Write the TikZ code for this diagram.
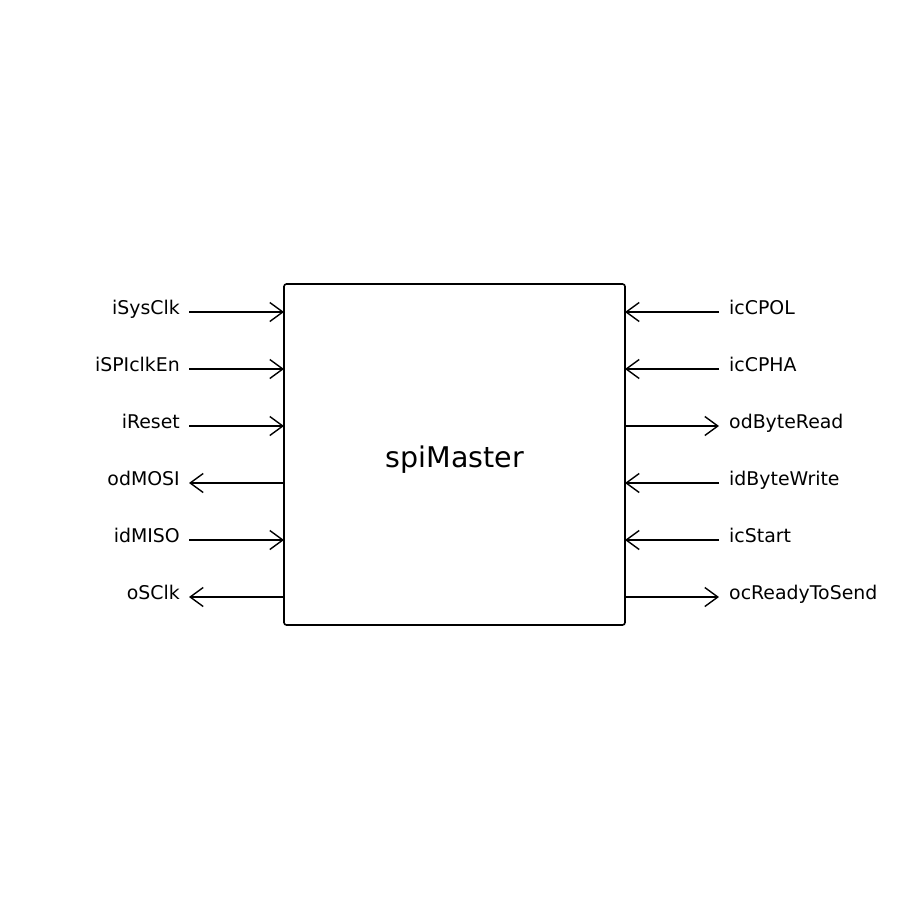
\documentclass[tikz,border=0pt]{standalone}
\usepackage{fontspec}
\setmainfont{DejaVu Sans}
\usetikzlibrary{arrows.meta}
\begin{document}
\begin{tikzpicture}[x=1bp,y=-1bp,
  port/.style={line width=1.4bp,-{Straight Barb[length=13bp,width=19bp,line width=1.4bp]}},
  lbl/.style={inner sep=0pt,font=\fontsize{18.9bp}{22bp}\selectfont},
  blk/.style={draw,line width=1.6bp,rounded corners=2.5bp}]
\useasboundingbox (0,0) rectangle (909,909);
\draw[blk] (284,284) rectangle (625,625);
\node[lbl,font=\fontsize{28.5bp}{32bp}\selectfont,anchor=base] (title) at (455,467) {spiMaster};
% left side
\foreach \n/\y/\t in {a/312/iSysClk, b/369/iSPIclkEn, c/426/iReset, d/483/odMOSI, e/540/idMISO, f/597/oSClk}{
  \coordinate (L\n o) at (189,\y);
  \coordinate (L\n i) at (284,\y);
  \node[lbl,anchor=base east] (Lt\n) at (180,\y+2) {\t};
}
\draw[port] (Lao) -- (Lai);
\draw[port] (Lbo) -- (Lbi);
\draw[port] (Lco) -- (Lci);
\draw[port] (Ldi) -- (Ldo);
\draw[port] (Leo) -- (Lei);
\draw[port] (Lfi) -- (Lfo);
% right side
\foreach \n/\y/\t in {a/312/icCPOL, b/369/icCPHA, c/426/odByteRead, d/483/idByteWrite, e/540/icStart, f/597/ocReadyToSend}{
  \coordinate (R\n o) at (719,\y);
  \coordinate (R\n i) at (625,\y);
  \node[lbl,anchor=base west] (Rt\n) at (729,\y+2) {\t};
}
\draw[port] (Rao) -- (Rai);
\draw[port] (Rbo) -- (Rbi);
\draw[port] (Rci) -- (Rco);
\draw[port] (Rdo) -- (Rdi);
\draw[port] (Reo) -- (Rei);
\draw[port] (Rfi) -- (Rfo);
\end{tikzpicture}
\end{document}
